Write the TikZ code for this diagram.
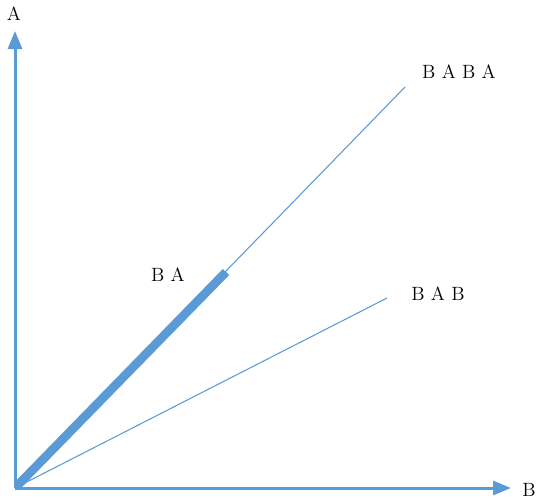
\documentclass[tikz,border=0pt]{standalone}
\usepackage{tikz}
\usetikzlibrary{arrows.meta,positioning}
\definecolor{axblue}{RGB}{91,155,213}
\tikzset{
  axis/.style={draw=axblue,line width=3pt*0.75,-{Triangle[length=13.5pt,width=10.5pt]}},
  vec/.style={draw=axblue,line width=0.8pt},
  fatvec/.style={draw=axblue,line width=6.6pt},
  lbl/.style={font=\fontsize{14.4}{17}\selectfont,inner sep=1pt},
}

\begin{document}
\begin{tikzpicture}[x=0.75pt,y=-0.75pt]
  \useasboundingbox (0,0) rectangle (536,501);
  \coordinate (o) at (15,488);
  \coordinate (ytop) at (15,31);
  \coordinate (xend) at (511,488);
  \coordinate (p1) at (405,87);
  \coordinate (p2) at (226,272);
  \coordinate (p3) at (387,298);
  \node[lbl] (la) at (14,14) {A};
  \node[lbl] (lb) at (529,490) {B};
  \node[lbl] (lbaba) at (459,72) {B A B A};
  \node[lbl] (lba) at (168,275) {B A};
  \node[lbl] (lbab) at (438,294) {B A B};
  \draw[vec] (o) -- (p1);
  \draw[vec] (o) -- (p3);
  \draw[fatvec] ([shift={(2,-2)}]o) -- (p2);
  \draw[axis] (o) -- (ytop);
  \draw[axis] (o) -- (xend);
\end{tikzpicture}
\end{document}
